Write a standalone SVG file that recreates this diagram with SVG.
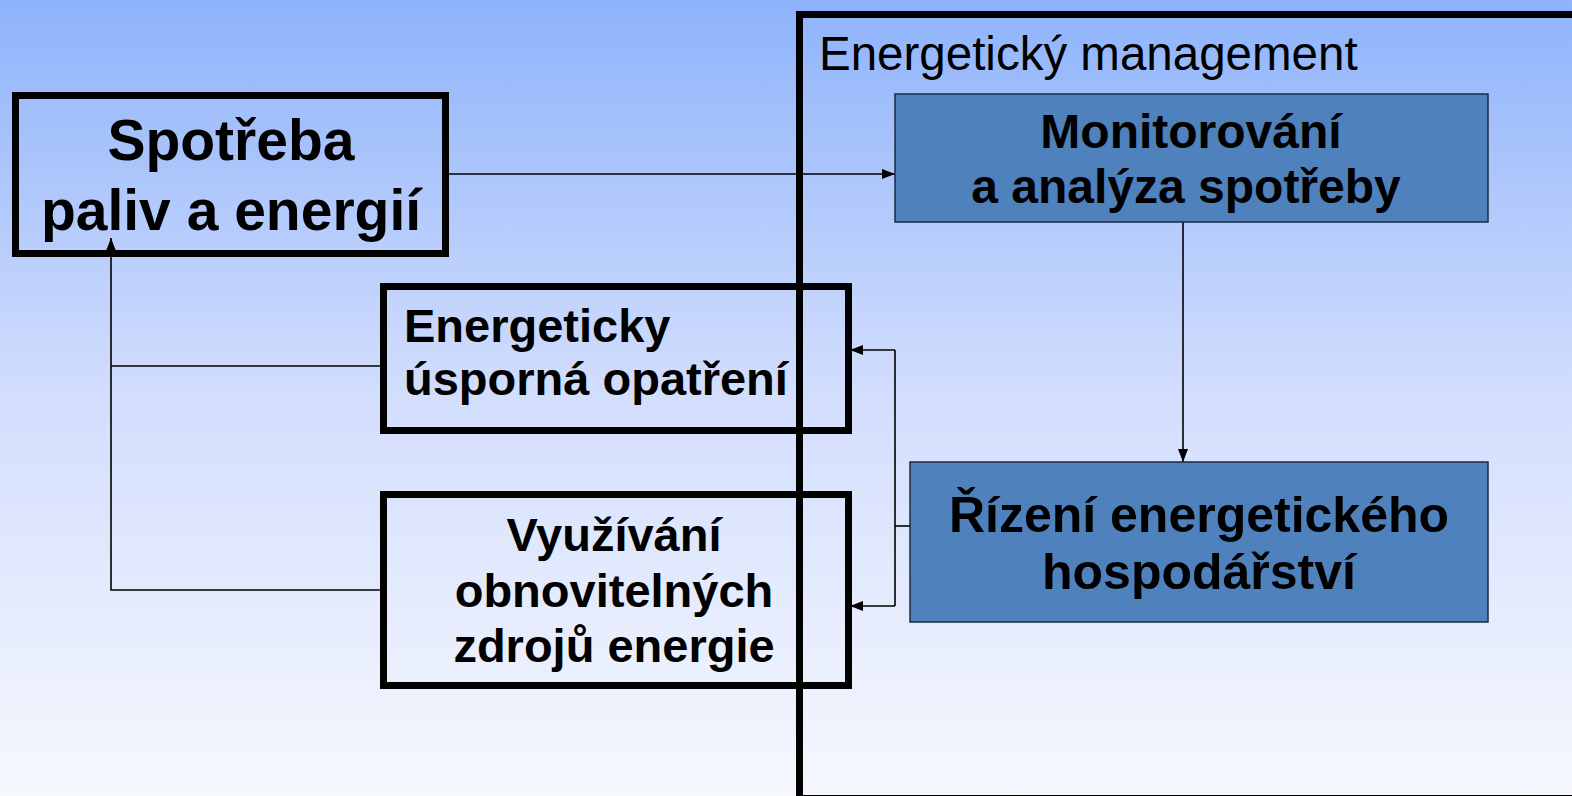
<svg xmlns="http://www.w3.org/2000/svg" width="1572" height="796" viewBox="0 0 1572 796">
<defs>
<linearGradient id="bg" x1="0" y1="0" x2="0" y2="1">
<stop offset="0" stop-color="#8eb3fb"/>
<stop offset="0.5" stop-color="#d3defd"/>
<stop offset="1" stop-color="#f6f8fe"/>
</linearGradient>
<marker id="arr" viewBox="0 0 13 10" refX="13" refY="5" markerWidth="13" markerHeight="10" markerUnits="userSpaceOnUse" orient="auto">
<path d="M0,0 L13,5 L0,10 Z" fill="#000"/>
</marker>
<style>
.thick{fill:none;stroke:#000;stroke-width:7}
.blue{fill:#4f81bd;stroke:#1c2a40;stroke-width:1.5}
.conn{fill:none;stroke:#000;stroke-width:1.6}
.b{font-family:"Liberation Sans",Arial,sans-serif;font-weight:bold;fill:#000}
.r{font-family:"Liberation Sans",Arial,sans-serif;fill:#000}
</style>
</defs>
<rect x="0" y="0" width="1572" height="796" fill="url(#bg)"/>

<g id="connectors">
<path class="conn" d="M449,174 L895,174" marker-end="url(#arr)"/>
<path class="conn" d="M1183,222 L1183,462" marker-end="url(#arr)"/>
<path class="conn" d="M910,526 L895,526"/>
<path class="conn" d="M895,350 L895,606"/>
<path class="conn" d="M895,350 L850,350" marker-end="url(#arr)"/>
<path class="conn" d="M895,606 L850,606" marker-end="url(#arr)"/>
<path class="conn" d="M380,366 L111,366"/>
<path class="conn" d="M380,590 L111,590 L111,238" marker-end="url(#arr)"/>
</g>

<g id="spotreba">
<rect class="thick" x="15.5" y="95.5" width="430" height="158"/>
<text class="b" font-size="57" text-anchor="middle" x="231" y="160">Spotřeba</text>
<text class="b" font-size="57" text-anchor="middle" x="231" y="230">paliv a energií</text>
</g>

<g id="management">
<rect class="thick" x="799.5" y="14.5" width="800" height="784"/>
<text class="r" font-size="47.5" x="819" y="70">Energetický management</text>
</g>

<g id="monitorovani">
<rect class="blue" x="895" y="94" width="593" height="128"/>
<text class="b" font-size="48" text-anchor="middle" x="1191" y="148">Monitorování</text>
<text class="b" font-size="48" text-anchor="middle" x="1186" y="203">a analýza spotřeby</text>
</g>

<g id="rizeni">
<rect class="blue" x="910" y="462" width="578" height="160"/>
<text class="b" font-size="50" text-anchor="middle" x="1199" y="532">Řízení energetického</text>
<text class="b" font-size="50" text-anchor="middle" x="1199" y="589">hospodářství</text>
</g>

<g id="usporna">
<rect class="thick" x="383.5" y="286.5" width="465" height="144"/>
<text class="b" font-size="47" x="404" y="342">Energeticky</text>
<text class="b" font-size="47" x="404" y="395">úsporná opatření</text>
</g>

<g id="obnovitelne">
<rect class="thick" x="383.5" y="494.5" width="465" height="191"/>
<text class="b" font-size="47" text-anchor="middle" x="614" y="551">Využívání</text>
<text class="b" font-size="47" text-anchor="middle" x="614" y="607">obnovitelných</text>
<text class="b" font-size="47" text-anchor="middle" x="614" y="662">zdrojů energie</text>
</g>
<line x1="799.5" y1="283" x2="799.5" y2="690" stroke="#000" stroke-width="7"/>
</svg>
